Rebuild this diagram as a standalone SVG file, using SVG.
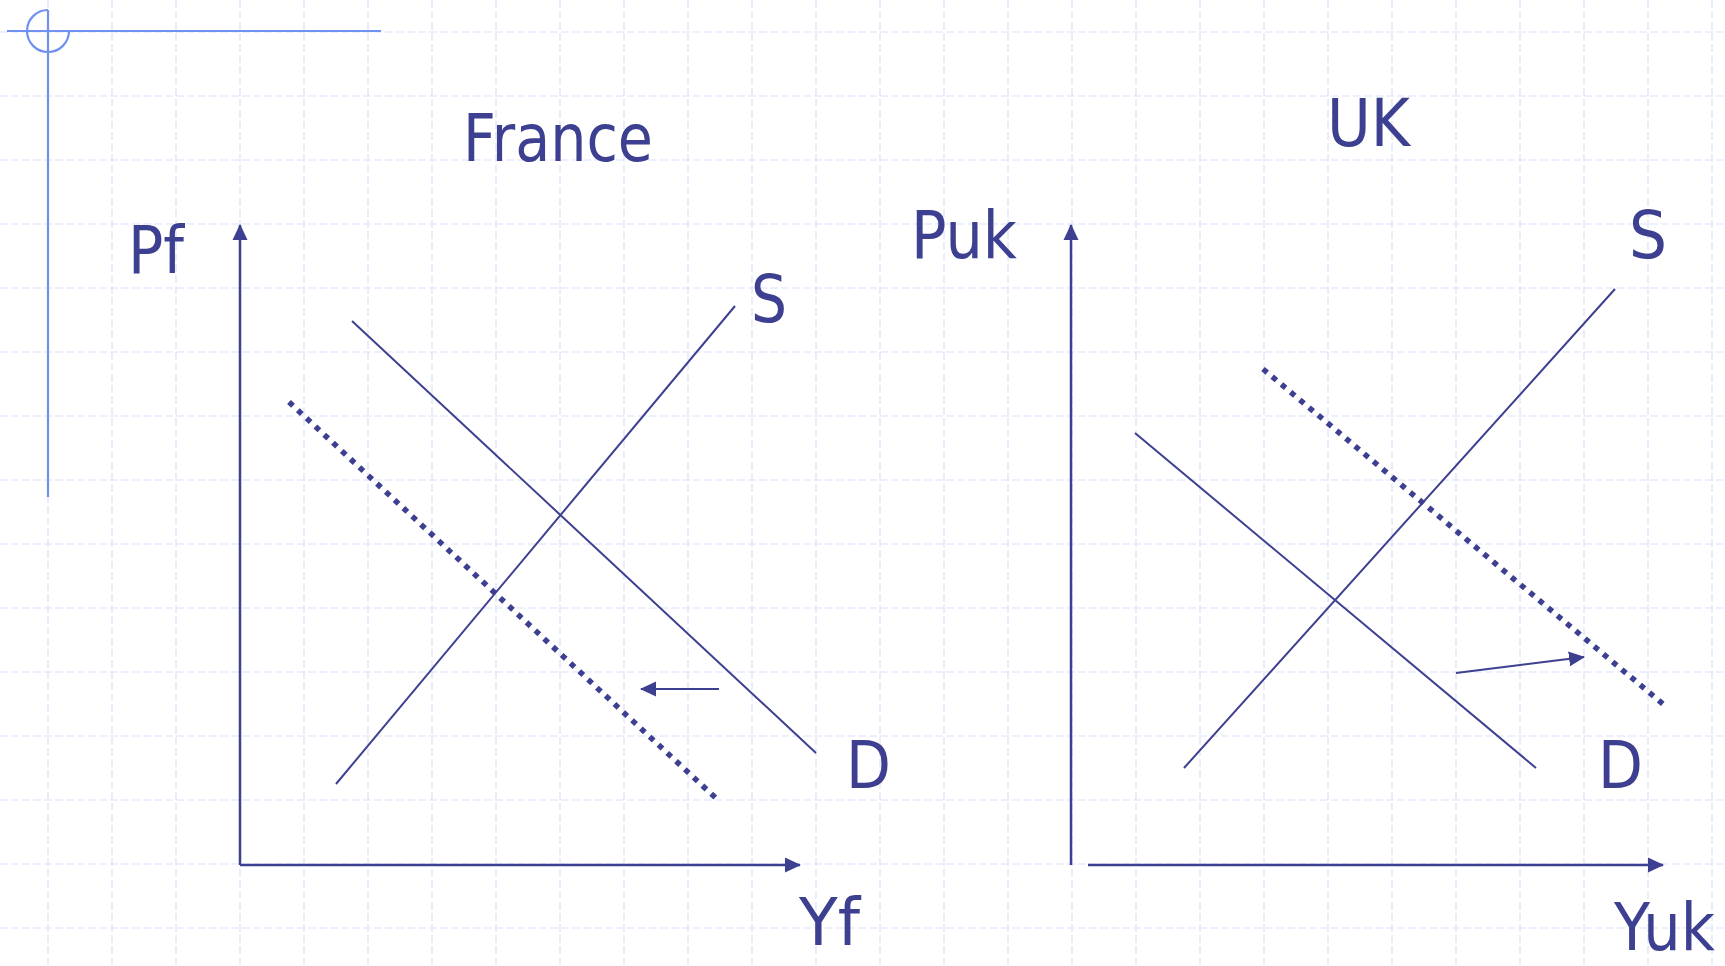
<svg xmlns="http://www.w3.org/2000/svg" width="1725" height="966" viewBox="0 0 1725 966">
<defs>
<style>
.grid line{stroke:#d9e1fb;stroke-width:1.2;stroke-dasharray:8 3}
.orn{stroke:#7191f0;stroke-width:2.2;fill:none}
.lbl{font-family:"DejaVu Sans","Liberation Sans",sans-serif;font-size:65px;fill:#3d4090}
.axis{stroke:#3d4090;stroke-width:2.5;fill:none}
.curve{stroke:#3d4090;stroke-width:2;fill:none}
.dots{stroke:#3d4090;stroke-width:5.5;stroke-dasharray:5.5 6.5;fill:none}
.shift{stroke:#3d4090;stroke-width:2;fill:none}
</style>
<marker id="ah" markerUnits="userSpaceOnUse" markerWidth="16" markerHeight="16" viewBox="0 0 16 16" refX="15" refY="8" orient="auto">
<path d="M0,0.5 L16,8 L0,15.5 Z" fill="#3d4090"/>
</marker>
</defs>
<rect width="1725" height="966" fill="#ffffff"/>
<g class="grid" id="grid">
<line x1="48" y1="0" x2="48" y2="966"/><line x1="112" y1="0" x2="112" y2="966"/><line x1="176" y1="0" x2="176" y2="966"/><line x1="240" y1="0" x2="240" y2="966"/><line x1="304" y1="0" x2="304" y2="966"/><line x1="368" y1="0" x2="368" y2="966"/><line x1="432" y1="0" x2="432" y2="966"/><line x1="496" y1="0" x2="496" y2="966"/><line x1="560" y1="0" x2="560" y2="966"/><line x1="624" y1="0" x2="624" y2="966"/><line x1="688" y1="0" x2="688" y2="966"/><line x1="752" y1="0" x2="752" y2="966"/><line x1="816" y1="0" x2="816" y2="966"/><line x1="880" y1="0" x2="880" y2="966"/><line x1="944" y1="0" x2="944" y2="966"/><line x1="1008" y1="0" x2="1008" y2="966"/><line x1="1072" y1="0" x2="1072" y2="966"/><line x1="1136" y1="0" x2="1136" y2="966"/><line x1="1200" y1="0" x2="1200" y2="966"/><line x1="1264" y1="0" x2="1264" y2="966"/><line x1="1328" y1="0" x2="1328" y2="966"/><line x1="1392" y1="0" x2="1392" y2="966"/><line x1="1456" y1="0" x2="1456" y2="966"/><line x1="1520" y1="0" x2="1520" y2="966"/><line x1="1584" y1="0" x2="1584" y2="966"/><line x1="1648" y1="0" x2="1648" y2="966"/><line x1="1712" y1="0" x2="1712" y2="966"/>
<line x1="0" y1="32" x2="1725" y2="32"/><line x1="0" y1="96" x2="1725" y2="96"/><line x1="0" y1="160" x2="1725" y2="160"/><line x1="0" y1="224" x2="1725" y2="224"/><line x1="0" y1="288" x2="1725" y2="288"/><line x1="0" y1="352" x2="1725" y2="352"/><line x1="0" y1="416" x2="1725" y2="416"/><line x1="0" y1="480" x2="1725" y2="480"/><line x1="0" y1="544" x2="1725" y2="544"/><line x1="0" y1="608" x2="1725" y2="608"/><line x1="0" y1="672" x2="1725" y2="672"/><line x1="0" y1="736" x2="1725" y2="736"/><line x1="0" y1="800" x2="1725" y2="800"/><line x1="0" y1="864" x2="1725" y2="864"/><line x1="0" y1="928" x2="1725" y2="928"/>
</g>
<g id="ornament" class="orn">
<line x1="7" y1="31" x2="381" y2="31"/>
<line x1="48" y1="10" x2="48" y2="497"/>
<path d="M48,10 A21,21 0 1 0 69,31"/>
</g>
<g id="france-title"><text class="lbl" x="463" y="161" textLength="190" lengthAdjust="spacingAndGlyphs">France</text></g>
<g id="france-pf"><text class="lbl" x="128" y="273" textLength="56" lengthAdjust="spacingAndGlyphs">Pf</text></g>
<g id="france-s"><text class="lbl" x="751" y="322" textLength="36" lengthAdjust="spacingAndGlyphs">S</text></g>
<g id="france-d"><text class="lbl" x="846" y="788" textLength="45" lengthAdjust="spacingAndGlyphs">D</text></g>
<g id="france-yf"><text class="lbl" x="799" y="945" textLength="61" lengthAdjust="spacingAndGlyphs">Yf</text></g>
<g id="uk-title"><text class="lbl" x="1327" y="146" textLength="83" lengthAdjust="spacingAndGlyphs">UK</text></g>
<g id="uk-puk"><text class="lbl" x="911" y="258" textLength="106" lengthAdjust="spacingAndGlyphs">Puk</text></g>
<g id="uk-s"><text class="lbl" x="1629" y="258" textLength="38" lengthAdjust="spacingAndGlyphs">S</text></g>
<g id="uk-d"><text class="lbl" x="1598" y="788" textLength="45" lengthAdjust="spacingAndGlyphs">D</text></g>
<g id="uk-yuk"><text class="lbl" x="1614" y="950" textLength="101" lengthAdjust="spacingAndGlyphs">Yuk</text></g>
<g id="connectors">
<line class="axis" x1="240" y1="865" x2="240" y2="225" marker-end="url(#ah)"/>
<line class="axis" x1="240" y1="865" x2="800" y2="865" marker-end="url(#ah)"/>
<line class="curve" x1="352" y1="321" x2="816" y2="753"/>
<line class="curve" x1="336" y1="784" x2="735" y2="306"/>
<line class="dots" x1="289" y1="402" x2="719" y2="801"/>
<line class="shift" x1="719" y1="689" x2="641" y2="689" marker-end="url(#ah)"/>
<line class="axis" x1="1071" y1="865" x2="1071" y2="225" marker-end="url(#ah)"/>
<line class="axis" x1="1088" y1="865" x2="1663" y2="865" marker-end="url(#ah)"/>
<line class="curve" x1="1135" y1="433" x2="1536" y2="768"/>
<line class="curve" x1="1184" y1="768" x2="1615" y2="289"/>
<line class="dots" x1="1263" y1="369" x2="1663" y2="704"/>
<line class="shift" x1="1456" y1="673" x2="1584" y2="657" marker-end="url(#ah)"/>
</g>
</svg>
